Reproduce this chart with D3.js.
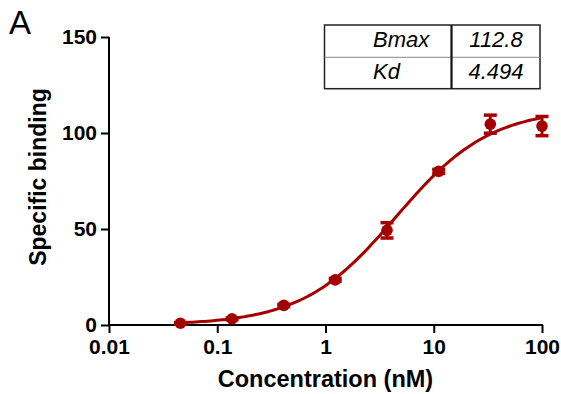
<!DOCTYPE html>
<html>
<head>
<meta charset="utf-8">
<script src="https://cdn.jsdelivr.net/npm/d3@7"></script>
<style>
  body { margin: 0; background: #fff; }
  svg { display: block; font-family: "Liberation Sans", Arial, sans-serif; }
</style>
</head>
<body>
<div id="chart"></div>
<script>
// data
const concentration = [0.0457, 0.137, 0.412, 1.23, 3.7, 11.1, 33.3, 100];
const binding = [0.9, 3.2, 10.2, 23.5, 49.3, 80.0, 104.6, 103.6];
const bindingErr = [0.4, 0.5, 0.6, 0.8, 4.0, 1.0, 4.7, 5.0];
const fitLabels = ["Bmax", "Kd"];
const fitValues = [112.8, 4.494];
const xTicks = [0.01, 0.1, 1, 10, 100];
const xTickLabels = ["0.01", "0.1", "1", "10", "100"];
const yTicks = [0, 50, 100, 150];

const width = 561, height = 394;
const margin = {left: 109, right: 19, top: 37, bottom: 69};
const red = "#a50000";

const svg = d3.select("#chart").append("svg")
    .attr("width", width)
    .attr("height", height);

const xScale = d3.scaleLog()
    .domain([0.01, 100])
    .range([margin.left, width - margin.right]);

const yScale = d3.scaleLinear()
    .domain([0, 150])
    .range([height - margin.bottom, margin.top]);

// axes
const yAxis = svg.append("g")
    .attr("transform", `translate(${margin.left},0)`)
    .call(d3.axisLeft(yScale).tickValues(yTicks).tickSize(8).tickSizeOuter(0).tickPadding(4));

const xAxis = svg.append("g")
    .attr("transform", `translate(0,${height - margin.bottom})`)
    .call(d3.axisBottom(xScale).tickValues(xTicks)
        .tickFormat((d, i) => xTickLabels[i]).tickSize(8).tickSizeOuter(0).tickPadding(6));

[xAxis, yAxis].forEach(ax => {
    ax.selectAll("path, line").attr("stroke", "#000").attr("stroke-width", 2);
    ax.selectAll("text")
        .attr("fill", "#000")
        .style("font-size", "21px")
        .style("font-weight", "bold");
});
yAxis.select(".domain").attr("d", `M0,${yScale(150)}V${yScale(0) + 1}`);
xAxis.select(".domain").attr("d", `M${xScale(0.01) - 1},0H${xScale(100) + 1}`);

// axis titles
svg.append("text")
    .attr("x", (xScale(0.01) + xScale(100)) / 2)
    .attr("y", 387)
    .attr("text-anchor", "middle")
    .style("font-size", "23.5px")
    .style("font-weight", "bold")
    .text("Concentration (nM)");

svg.append("text")
    .attr("transform", `translate(46,${(yScale(0) + yScale(150)) / 2 - 4}) rotate(-90)`)
    .attr("text-anchor", "middle")
    .style("font-size", "23px")
    .style("font-weight", "bold")
    .text("Specific binding");

svg.append("text")
    .attr("x", 9)
    .attr("y", 34)
    .style("font-size", "33px")
    .text("A");

// fitted one-site curve from Bmax and Kd in the table
const bmax = fitValues[0], kd = fitValues[1];
const curveX = d3.range(0, 121).map(i => Math.pow(10, Math.log10(concentration[0]) + i * (2 - Math.log10(concentration[0])) / 120));
const curve = curveX.map(c => ({c: c, b: bmax * c / (kd + c)}));

const line = d3.line()
    .x(d => xScale(d.c))
    .y(d => yScale(d.b));

svg.append("path")
    .attr("d", line(curve))
    .attr("fill", "none")
    .attr("stroke", red)
    .attr("stroke-width", 3);

// points with error bars
const pts = concentration.map((c, i) => ({c: c, b: binding[i], e: bindingErr[i]}));

const err = svg.append("g");
pts.forEach(d => {
    const x = xScale(d.c);
    const y0 = yScale(d.b - d.e), y1 = yScale(d.b + d.e);
    err.append("line").attr("x1", x).attr("x2", x).attr("y1", y0).attr("y2", y1)
        .attr("stroke", red).attr("stroke-width", 3);
    [y0, y1].forEach(yy => {
        err.append("line").attr("x1", x - 6.5).attr("x2", x + 6.5).attr("y1", yy).attr("y2", yy)
            .attr("stroke", red).attr("stroke-width", 3.5);
    });
});

svg.append("g").selectAll("circle")
    .data(pts)
    .join("circle")
    .attr("cx", d => xScale(d.c))
    .attr("cy", d => yScale(d.b))
    .attr("r", 5.8)
    .attr("fill", red);

// parameter table
const tbl = {x0: 324.5, x1: 451.5, x2: 540, y0: 25, y1: 57.3, y2: 88.7};
const t = svg.append("g");
t.append("rect")
    .attr("x", tbl.x0).attr("y", tbl.y0)
    .attr("width", tbl.x2 - tbl.x0).attr("height", tbl.y2 - tbl.y0)
    .attr("fill", "#fff").attr("stroke", "#222").attr("stroke-width", 1.5);
t.append("line")
    .attr("x1", tbl.x0).attr("x2", tbl.x2).attr("y1", tbl.y1).attr("y2", tbl.y1)
    .attr("stroke", "#888").attr("stroke-width", 1);
t.append("line")
    .attr("x1", tbl.x1).attr("x2", tbl.x1).attr("y1", tbl.y0).attr("y2", tbl.y2)
    .attr("stroke", "#111").attr("stroke-width", 2.2);

const baselines = [47.3, 79.3];
fitLabels.forEach((lab, i) => {
    t.append("text")
        .attr("x", 373).attr("y", baselines[i])
        .style("font-size", "22px").style("font-style", "italic")
        .text(lab);
    t.append("text")
        .attr("x", 496).attr("y", baselines[i])
        .attr("text-anchor", "middle")
        .style("font-size", "22px").style("font-style", "italic")
        .text(fitValues[i]);
});
</script>
</body>
</html>
